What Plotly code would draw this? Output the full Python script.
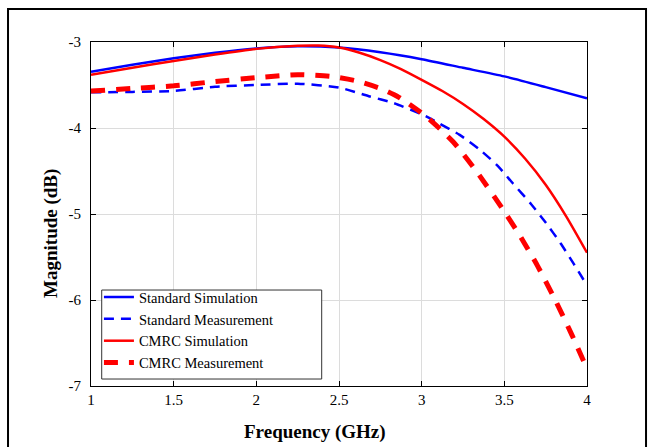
import plotly.graph_objects as go

# Standard Simulation
std_sim_f = [1.0, 1.25, 1.5, 1.75, 2.0, 2.25, 2.5, 2.75, 3.0, 3.25, 3.5, 3.75, 4.0]
std_sim_db = [-3.345, -3.265, -3.19, -3.125, -3.075, -3.05, -3.065, -3.12, -3.20, -3.30, -3.40, -3.525, -3.655]

# Standard Measurement
std_meas_f = [1.0, 1.25, 1.5, 1.75, 2.0, 2.25, 2.5, 2.68, 2.83, 3.0, 3.1, 3.23, 3.35, 3.46, 3.55, 3.66, 3.75, 3.84, 3.92, 4.0]
std_meas_db = [-3.585, -3.58, -3.57, -3.52, -3.50, -3.485, -3.53, -3.63, -3.71, -3.84, -3.94, -4.08, -4.25, -4.44, -4.64, -4.88, -5.10, -5.34, -5.58, -5.83]

# CMRC Simulation
cmrc_sim_f = [1.0, 1.25, 1.5, 1.75, 2.0, 2.25, 2.375, 2.5, 2.625, 2.75, 2.875, 3.0, 3.125, 3.25, 3.375, 3.5, 3.625, 3.75, 3.875, 4.0]
cmrc_sim_db = [-3.38, -3.30, -3.22, -3.145, -3.08, -3.045, -3.042, -3.065, -3.125, -3.21, -3.315, -3.44, -3.57, -3.72, -3.895, -4.10, -4.355, -4.66, -5.03, -5.45]

# CMRC Measurement
cmrc_meas_f = [1.0, 1.25, 1.5, 1.75, 2.0, 2.25, 2.45, 2.6, 2.75, 2.86, 3.03, 3.19, 3.33, 3.5, 3.6, 3.7, 3.8, 3.9, 4.0]
cmrc_meas_db = [-3.57, -3.54, -3.51, -3.46, -3.415, -3.38, -3.40, -3.45, -3.54, -3.64, -3.87, -4.16, -4.50, -4.97, -5.27, -5.60, -5.97, -6.37, -6.80]

x_ticks = [1, 1.5, 2, 2.5, 3, 3.5, 4]
x_tick_labels = ["1", "1.5", "2", "2.5", "3", "3.5", "4"]
y_ticks = [-7, -6, -5, -4, -3]
y_tick_labels = ["-7", "-6", "-5", "-4", "-3"]

FONT = "Liberation Serif, Times New Roman, serif"

fig = go.Figure()
fig.add_trace(go.Scatter(x=std_sim_f, y=std_sim_db, mode="lines", name="Standard Simulation",
                         line=dict(color="#0000ff", width=2.5, shape="spline", smoothing=0.6)))
fig.add_trace(go.Scatter(x=std_meas_f, y=std_meas_db, mode="lines", name="Standard Measurement",
                         line=dict(color="#0000ff", width=2.5, dash="10px,7px", shape="spline", smoothing=0.6)))
fig.add_trace(go.Scatter(x=cmrc_sim_f, y=cmrc_sim_db, mode="lines", name="CMRC Simulation",
                         line=dict(color="#ff0000", width=2.5, shape="spline", smoothing=0.6)))
fig.add_trace(go.Scatter(x=cmrc_meas_f, y=cmrc_meas_db, mode="lines", name="CMRC Measurement",
                         line=dict(color="#ff0000", width=5, dash="14px,11px", shape="spline", smoothing=0.6)))

axis_common = dict(
    showgrid=True, gridcolor="#dcdcdc", gridwidth=1,
    showline=True, linecolor="black", linewidth=1, mirror="ticks",
    ticks="inside", ticklen=5, tickcolor="black",
    tickfont=dict(family=FONT, size=15, color="black"),
    zeroline=False,
)

fig.update_xaxes(range=[1, 4], tickvals=x_ticks, ticktext=x_tick_labels, **axis_common)
fig.update_yaxes(range=[-7, -3], tickvals=y_ticks, ticktext=y_tick_labels,
                 ticklabelstandoff=6, **axis_common)

# outer frame
fig.add_shape(type="rect", xref="paper", yref="paper",
              x0=-0.1673, x1=1.119, y0=-0.25, y1=1.0959,
              line=dict(color="black", width=2), fillcolor="rgba(0,0,0,0)", layer="above")
# legend box
fig.add_shape(type="rect", xref="paper", yref="paper",
              x0=0.0216, x1=0.4651, y0=0.0203, y1=0.279,
              line=dict(color="#333333", width=1), fillcolor="white", layer="above")

fig.add_annotation(text="<b>Frequency (GHz)</b>", xref="paper", yref="paper",
                   x=0.451, y=-0.134, xanchor="center", yanchor="middle", showarrow=False,
                   font=dict(family=FONT, size=19, color="black"))
fig.add_annotation(text="<b>Magnitude (dB)</b>", xref="paper", yref="paper",
                   x=-0.0806, y=0.442, xanchor="center", yanchor="middle", showarrow=False,
                   textangle=-90, font=dict(family=FONT, size=19, color="black"))

fig.update_layout(
    width=651, height=447,
    margin=dict(l=91, r=64, t=42, b=61),
    paper_bgcolor="white", plot_bgcolor="white",
    font=dict(family=FONT, color="black"),
    showlegend=True,
    legend=dict(x=0.016, y=0.305, xanchor="left", yanchor="top",
                bgcolor="rgba(0,0,0,0)", borderwidth=0,
                font=dict(family=FONT, size=14.5, color="black"),
                tracegroupgap=0, itemwidth=30),
)

fig.write_html("out.html", config={"displayModeBar": False},
               post_script="document.body.style.margin='0';")
